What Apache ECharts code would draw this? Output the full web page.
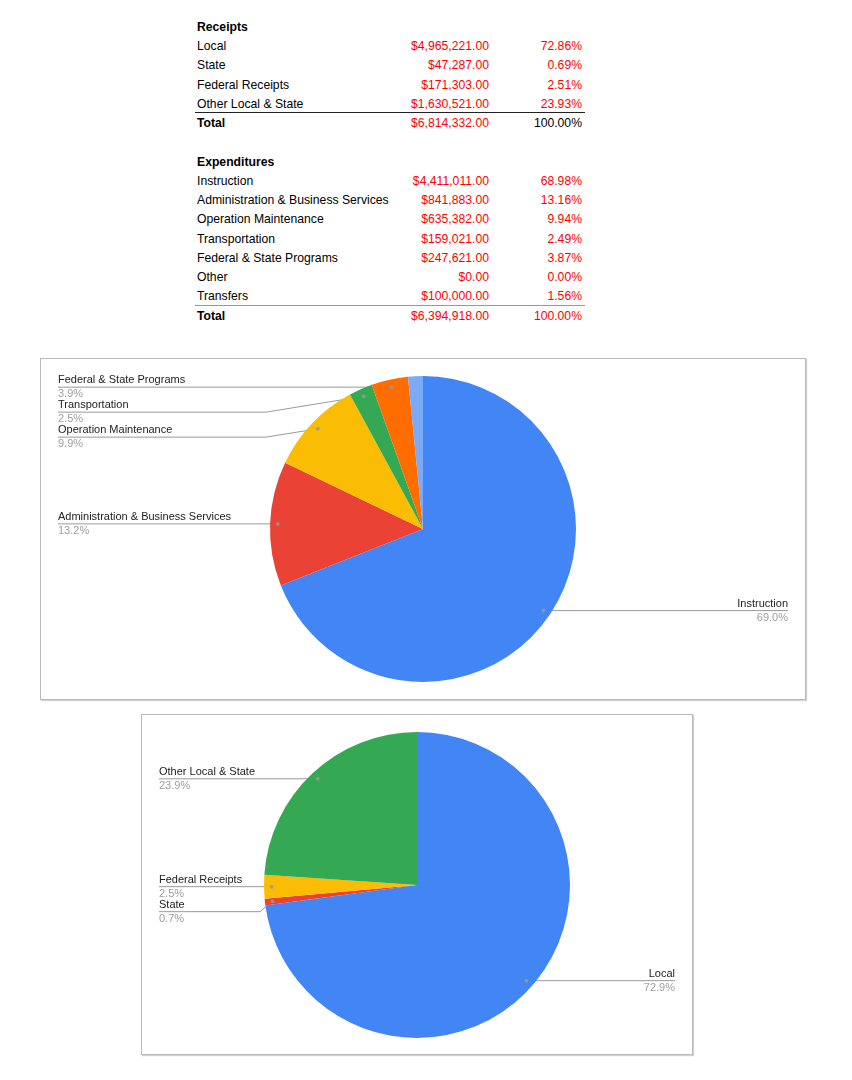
<!DOCTYPE html>
<html>
<head>
<meta charset="utf-8">
<script src="https://cdn.jsdelivr.net/npm/echarts/dist/echarts.min.js"></script>
<style>
  html, body { margin: 0; padding: 0; background: #fff; }
  body { width: 852px; height: 1080px; position: relative; overflow: hidden;
         font-family: "Liberation Sans", Arial, Helvetica, sans-serif; }
  .cell { position: absolute; font-size: 12.2px; line-height: 19.25px; height: 19.25px; white-space: nowrap; color: #000; }
  .lab { left: 197px; }
  .amt { left: 330px; width: 159px; text-align: right; color: #ff0000; }
  .pct { left: 492px; width: 90px; text-align: right; color: #ff0000; }
  .head { font-weight: bold; }
  .rule { position: absolute; left: 195px; width: 390px; height: 0; }
  .box { position: absolute; border: 1px solid #b9b9b9; box-shadow: 1px 1px 1px rgba(0,0,0,0.18); background: #fff; }
</style>
</head>
<body>
<div id="tables"></div>
<div id="chartExp" class="box" style="left:40px; top:358px; width:764px; height:340px;"></div>
<div id="chartRec" class="box" style="left:141px; top:714px; width:550px; height:339px;"></div>
<script>
// ---------- data ----------
const receiptTitle = 'Receipts';
const receiptCats = ['Local', 'State', 'Federal Receipts', 'Other Local & State'];
const receiptVals = [4965221, 47287, 171303, 1630521];

const expenseTitle = 'Expenditures';
const expenseCats = ['Instruction', 'Administration & Business Services', 'Operation Maintenance',
                     'Transportation', 'Federal & State Programs', 'Other', 'Transfers'];
const expenseVals = [4411011, 841883, 635382, 159021, 247621, 0, 100000];

const hiddenExpenseLabels = ['Other', 'Transfers'];
const hiddenReceiptLabels = [];

const pieColors = ['#4285F4', '#EA4335', '#FBBC04', '#34A853', '#FF6D01', '#46BDC6', '#7BAAF7'];

// ---------- tables ----------
const ROW0 = 17.9, ROWH = 19.25, RULE0 = 16.4;
const tables = document.getElementById('tables');
function money(v) {
  return '$' + v.toLocaleString('en-US', { minimumFractionDigits: 2, maximumFractionDigits: 2 });
}
function cell(cls, text, row, extraStyle) {
  const d = document.createElement('div');
  d.className = 'cell ' + cls;
  d.style.top = (ROW0 + row * ROWH) + 'px';
  if (extraStyle) d.setAttribute('style', d.getAttribute('style') + ';' + extraStyle);
  d.textContent = text;
  tables.appendChild(d);
}
function renderTable(startRow, title, cats, vals, totalPctColor, ruleStyle) {
  const total = vals.reduce((a, b) => a + b, 0);
  cell('lab head', title, startRow);
  cats.forEach((c, i) => {
    const r = startRow + 1 + i;
    cell('lab', c, r);
    cell('amt', money(vals[i]), r);
    cell('pct', (vals[i] / total * 100).toFixed(2) + '%', r);
  });
  const tr = startRow + 1 + cats.length;
  const rule = document.createElement('div');
  rule.className = 'rule';
  rule.style.top = (RULE0 + tr * ROWH - 0.5) + 'px';
  rule.style.borderTop = ruleStyle;
  tables.appendChild(rule);
  cell('lab head', 'Total', tr);
  cell('amt', money(total), tr);
  cell('pct', '100.00%', tr, 'color:' + totalPctColor);
}
renderTable(0, receiptTitle, receiptCats, receiptVals, '#000000', '1px solid #222');
renderTable(7, expenseTitle, expenseCats, expenseVals, '#ff0000', '1.5px solid #999');

// ---------- pies ----------
const FONT = '"Liberation Sans", Arial, Helvetica, sans-serif';
function pieOption(chart, cats, vals, hidden, center, r) {
  const total = vals.reduce((a, b) => a + b, 0);
  const data = cats.map((c, i) => ({ name: c, value: vals[i] }));
  const labelData = data.map(d => {
    const show = !hidden.includes(d.name) && d.value > 0;
    return { name: d.name, value: d.value, label: { show: show }, labelLine: { show: show } };
  });
  let cum = 0;
  const dots = [];
  vals.forEach((v, i) => {
    const mid = cum + v / 2;
    cum += v;
    if (!hidden.includes(cats[i]) && v > 0) dots.push([0.95, mid]);
  });
  return {
    animation: false,
    color: pieColors,
    polar: { center: center, radius: r },
    angleAxis: { type: 'value', min: 0, max: total, startAngle: 90, clockwise: true, show: false },
    radiusAxis: { type: 'value', min: 0, max: 1, show: false },
    series: [
      {
        type: 'pie', center: center, radius: r, startAngle: 90, clockwise: true,
        data: data, silent: true,
        label: { show: false }, labelLine: { show: false },
        itemStyle: { borderWidth: 0 },
        emphasis: { disabled: true }
      },
      {
        type: 'pie', center: center, radius: r * 0.95, startAngle: 90, clockwise: true,
        data: labelData, silent: true,
        itemStyle: { color: 'rgba(0,0,0,0)', borderWidth: 0 },
        emphasis: { disabled: true },
        avoidLabelOverlap: true,
        label: {
          show: true, position: 'outside', alignTo: 'edge', edgeDistance: 17,
          minMargin: 0, fontFamily: FONT, fontSize: 11,
          formatter: p => '{n|' + p.name + '}\n{p|' + p.percent.toFixed(1) + '%}',
          rich: {
            n: { fontFamily: FONT, fontSize: 11, lineHeight: 14, color: '#222222' },
            p: { fontFamily: FONT, fontSize: 11, lineHeight: 14, color: '#9e9e9e' }
          }
        },
        labelLine: {
          show: true, length: 0, length2: 0, minTurnAngle: 0, maxSurfaceAngle: 180,
          lineStyle: { color: '#999999', width: 1 }
        },
        labelLayout: function (params) {
          const pts = params.labelLinePoints;
          if (!pts) return {};
          const rect = params.labelRect;
          const isLeft = rect.x + rect.width / 2 < center[0];
          const y = pts[2][1];
          pts[2][0] = isLeft ? rect.x : rect.x + rect.width;
          pts[1][0] = isLeft ? center[0] - r - 4 : center[0] + r + 4;
          pts[1][1] = y;
          return { labelLinePoints: pts };
        }
      },
      {
        type: 'scatter', coordinateSystem: 'polar', data: dots, symbol: 'circle',
        symbolSize: 4, itemStyle: { color: '#999999' }, silent: true
      }
    ]
  };
}

const chartExp = echarts.init(document.getElementById('chartExp'), null, { renderer: 'canvas' });
chartExp.setOption(pieOption(chartExp, expenseCats, expenseVals, hiddenExpenseLabels, [382, 170], 153));

const chartRec = echarts.init(document.getElementById('chartRec'), null, { renderer: 'canvas' });
chartRec.setOption(pieOption(chartRec, receiptCats, receiptVals, hiddenReceiptLabels, [275, 170], 153));
</script>
</body>
</html>
